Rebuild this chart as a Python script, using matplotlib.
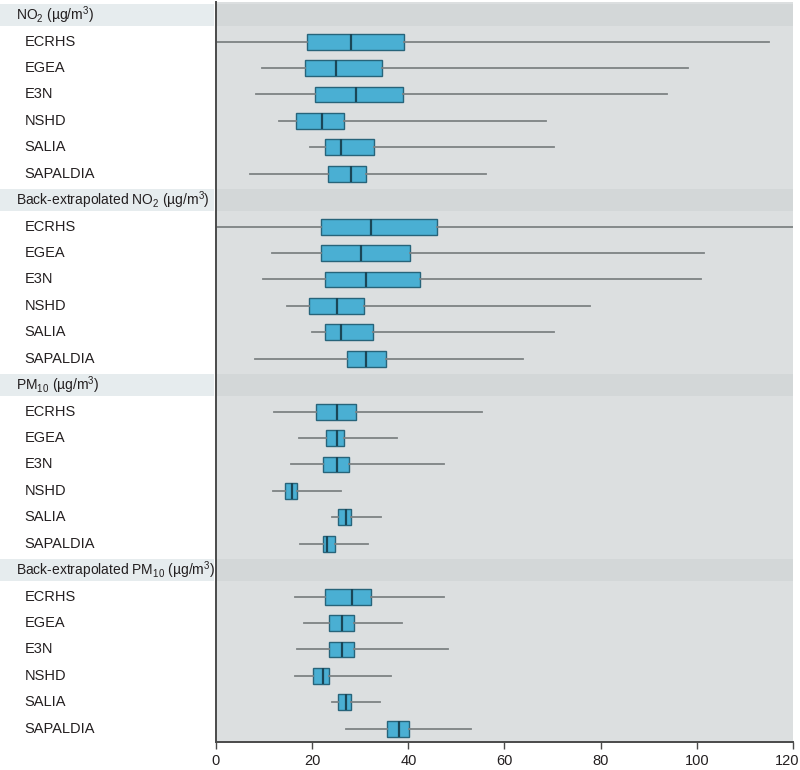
import matplotlib
matplotlib.use('Agg')
import matplotlib.pyplot as plt
from matplotlib.transforms import ScaledTranslation

plt.rcParams['font.family'] = ['Liberation Sans', 'DejaVu Sans']
plt.rcParams['mathtext.fontset'] = 'custom'
plt.rcParams['mathtext.rm'] = 'Liberation Sans'
plt.rcParams['mathtext.default'] = 'rm'

sections = [r'NO$_2$ (µg/m$^3$)',
            r'Back-extrapolated NO$_2$ (µg/m$^3$)',
            r'PM$_{10}$ (µg/m$^3$)',
            r'Back-extrapolated PM$_{10}$ (µg/m$^3$)']
cohorts = ['ECRHS', 'EGEA', 'E3N', 'NSHD', 'SALIA', 'SAPALDIA']

# per section: whisker low, q1, median, q3, whisker high (one value per cohort)
no2_lo = [0.2, 9.5, 8.4, 13.2, 19.6, 7.1]
no2_q1 = [18.9, 18.5, 20.6, 16.6, 22.7, 23.2]
no2_med = [28.1, 25.0, 29.2, 22.1, 26.0, 28.1]
no2_q3 = [39.1, 34.6, 38.9, 26.6, 32.8, 31.1]
no2_hi = [115.0, 98.2, 93.9, 68.7, 70.2, 56.1]

bno2_lo = [0.2, 11.6, 9.8, 14.7, 20.0, 8.1]
bno2_q1 = [21.8, 21.9, 22.7, 19.3, 22.7, 27.2]
bno2_med = [32.2, 30.1, 31.2, 25.2, 25.9, 31.2]
bno2_q3 = [45.9, 40.3, 42.4, 30.8, 32.6, 35.3]
bno2_hi = [120.0, 101.4, 100.9, 77.8, 70.2, 63.9]

pm_lo = [12.1, 17.3, 15.6, 11.9, 24.1, 17.5]
pm_q1 = [20.9, 22.9, 22.3, 14.4, 25.4, 22.2]
pm_med = [25.2, 25.2, 25.2, 15.8, 27.0, 23.1]
pm_q3 = [29.1, 26.6, 27.6, 16.9, 28.0, 24.8]
pm_hi = [55.3, 37.6, 47.4, 26.1, 34.4, 31.6]

bpm_lo = [16.4, 18.2, 16.8, 16.4, 24.1, 27.0]
bpm_q1 = [22.6, 23.6, 23.6, 20.2, 25.4, 35.6]
bpm_med = [28.3, 26.2, 26.2, 22.2, 27.0, 38.0]
bpm_q3 = [32.2, 28.8, 28.8, 23.4, 28.0, 40.1]
bpm_hi = [47.5, 38.6, 48.3, 36.3, 34.2, 53.0]

data = [(no2_lo, no2_q1, no2_med, no2_q3, no2_hi),
        (bno2_lo, bno2_q1, bno2_med, bno2_q3, bno2_hi),
        (pm_lo, pm_q1, pm_med, pm_q3, pm_hi),
        (bpm_lo, bpm_q1, bpm_med, bpm_q3, bpm_hi)]

x_ticks = [0, 20, 40, 60, 80, 100, 120]

fig = plt.figure(figsize=(8, 7.7), dpi=100)
ax = fig.add_axes([0.27, 0.0364, 0.7212, 0.9610])
ax_l = fig.add_axes([0.0, 0.0364, 0.27, 0.9610], zorder=3)
ax_l.patch.set_visible(False)

n_rows = len(sections) * (len(cohorts) + 1)
stats, positions = [], []
for s, (name, (lo, q1, med, q3, hi)) in enumerate(zip(sections, data)):
    h = s * (len(cohorts) + 1)
    ax_l.axhspan(h - 0.41, h + 0.41, xmax=0.992, color='#e6ecee', lw=0)
    ax.axhspan(h - 0.41, h + 0.41, color='#d3d7d8', lw=0, zorder=0)
    ax_l.text(0.075, h, name, fontsize=10, va='center', ha='left', color='#231f20')
    for j, c in enumerate(cohorts):
        ax_l.text(0.115, h + 1 + j, c, fontsize=10.5, va='center', ha='left', color='#231f20')
        stats.append(dict(whislo=lo[j], q1=q1[j], med=med[j], q3=q3[j], whishi=hi[j], label=c))
        positions.append(h + 1 + j)

ax.bxp(stats, positions=positions, orientation='horizontal', widths=0.6,
       showcaps=False, showfliers=False, patch_artist=True,
       boxprops=dict(facecolor='#4aafd3', edgecolor='#27647a', linewidth=1.0),
       medianprops=dict(color='#1a4657', linewidth=1.6),
       whiskerprops=dict(color='#7d8284', linewidth=1.3))

for a in (ax, ax_l):
    a.set_ylim(n_rows - 0.5, -0.5)
ax_l.set_xlim(0, 1)
ax_l.axis('off')

ax.set_facecolor('#dcdfe0')
ax.set_xlim(0, 120)
ax.set_xticks(x_ticks)
ax.set_xticklabels([str(t) for t in x_ticks])
ax.set_yticks([])
ax.tick_params(axis='x', direction='out', length=5, width=1, color='#4a4a4a',
               labelsize=10.5, labelcolor='#231f20', pad=4)
last = ax.get_xticklabels()[-1]
last.set_transform(last.get_transform() + ScaledTranslation(-4 / 72, 0, fig.dpi_scale_trans))
for side in ('top', 'right'):
    ax.spines[side].set_visible(False)
for side in ('left', 'bottom'):
    ax.spines[side].set_color('#4a4a4a')
    ax.spines[side].set_linewidth(1.4)

fig.savefig('out.png', dpi=100)
